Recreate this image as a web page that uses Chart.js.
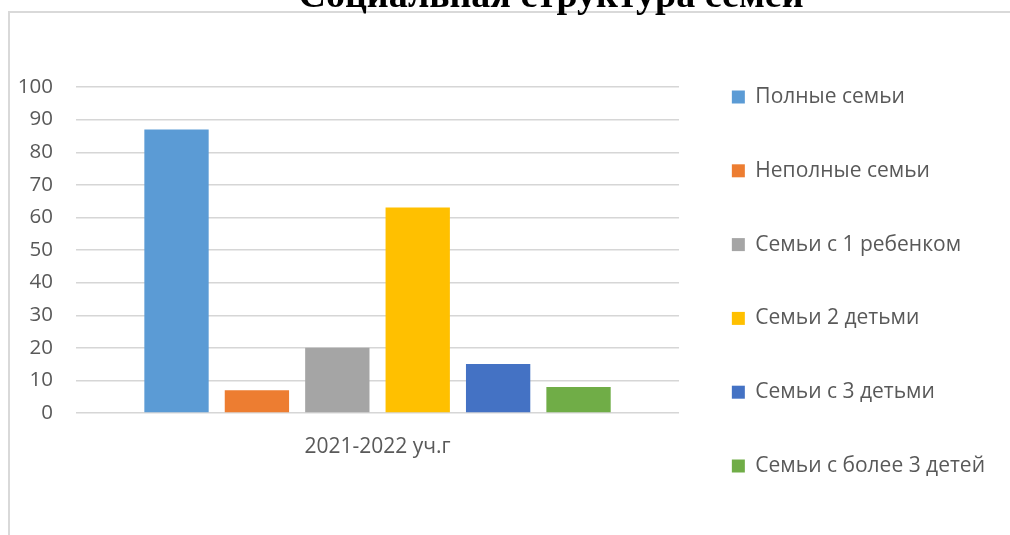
<!DOCTYPE html>
<html>
<head>
<meta charset="utf-8">
<script src="https://cdn.jsdelivr.net/npm/chart.js@4"></script>
<style>
  html, body { margin: 0; padding: 0; background: #fff; }
  #wrap { position: relative; width: 1010px; height: 535px; overflow: hidden; }
  #frame { position: absolute; left: 8px; top: 11px; width: 1100px; height: 600px;
           border-left: 2px solid #d9d9d9; border-top: 2px solid #d9d9d9; }
  #chart { position: absolute; left: 0; top: 0; }
</style>
</head>
<body>
<div id="wrap">
  <div id="frame"></div>
  <canvas id="chart" width="1010" height="535"></canvas>
</div>
<script>
const chartTitle = 'Социальная структура семей';
const categories = ['2021-2022 уч.г'];
const seriesNames = ['Полные семьи', 'Неполные семьи', 'Семьи с 1 ребенком', 'Семьи 2 детьми', 'Семьи с 3 детьми', 'Семьи с более 3 детей'];
const seriesValues = [87, 7, 20, 63, 15, 8];
const seriesColors = ['#5B9BD5', '#ED7D31', '#A5A5A5', '#FFC000', '#4472C4', '#70AD47'];
const yMin = 0, yMax = 100, yStep = 10;

const TEXT = '#595959';
const GRID = '#d6d6d6';
const SANS = '"Open Sans", sans-serif';

// the original title is centred on a wider frame, so move it right a bit
const titleShift = {
  id: 'titleShift',
  afterLayout(chart) {
    const t = chart.titleBlock;
    if (t) { t.left = 92; t.right = 1010; }
  }
};

new Chart(document.getElementById('chart'), {
  type: 'bar',
  data: {
    labels: categories,
    datasets: seriesNames.map((name, i) => ({
      label: name,
      data: [seriesValues[i]],
      backgroundColor: seriesColors[i],
      barPercentage: 0.8,
      categoryPercentage: 0.8
    }))
  },
  options: {
    responsive: false,
    animation: false,
    layout: { padding: { left: 0, right: 15, top: 0, bottom: 0 } },
    plugins: {
      title: {
        display: true,
        text: chartTitle,
        color: '#000',
        font: { family: '"Liberation Serif", serif', size: 38, weight: 'bold', lineHeight: 1.2 },
        padding: { top: -25.6, bottom: 67 }
      },
      legend: {
        position: 'right',
        align: 'start',
        maxWidth: 400,
        // empty legend title only pushes the items down
        title: { display: true, text: ' ', font: { size: 12, lineHeight: 1.2 }, padding: { top: 19.3, bottom: 0 } },
        labels: {
          color: TEXT,
          font: { family: SANS, size: 21 },
          boxWidth: 13,
          boxHeight: 13,
          padding: 52.8
        }
      },
      tooltip: { enabled: false }
    },
    scales: {
      x: {
        grid: { display: false },
        border: { display: false },
        ticks: { color: TEXT, font: { family: SANS, size: 21 }, padding: 13 },
        afterFit(scale) { scale.height = 122; }
      },
      y: {
        min: yMin,
        max: yMax,
        grid: { color: GRID, lineWidth: 1.4, drawTicks: false },
        border: { display: false },
        ticks: { stepSize: yStep, color: TEXT, font: { family: SANS, size: 20.5 }, padding: 23 },
        afterFit(scale) { scale.width = 76; }
      }
    }
  },
  plugins: [titleShift]
});
</script>
</body>
</html>
